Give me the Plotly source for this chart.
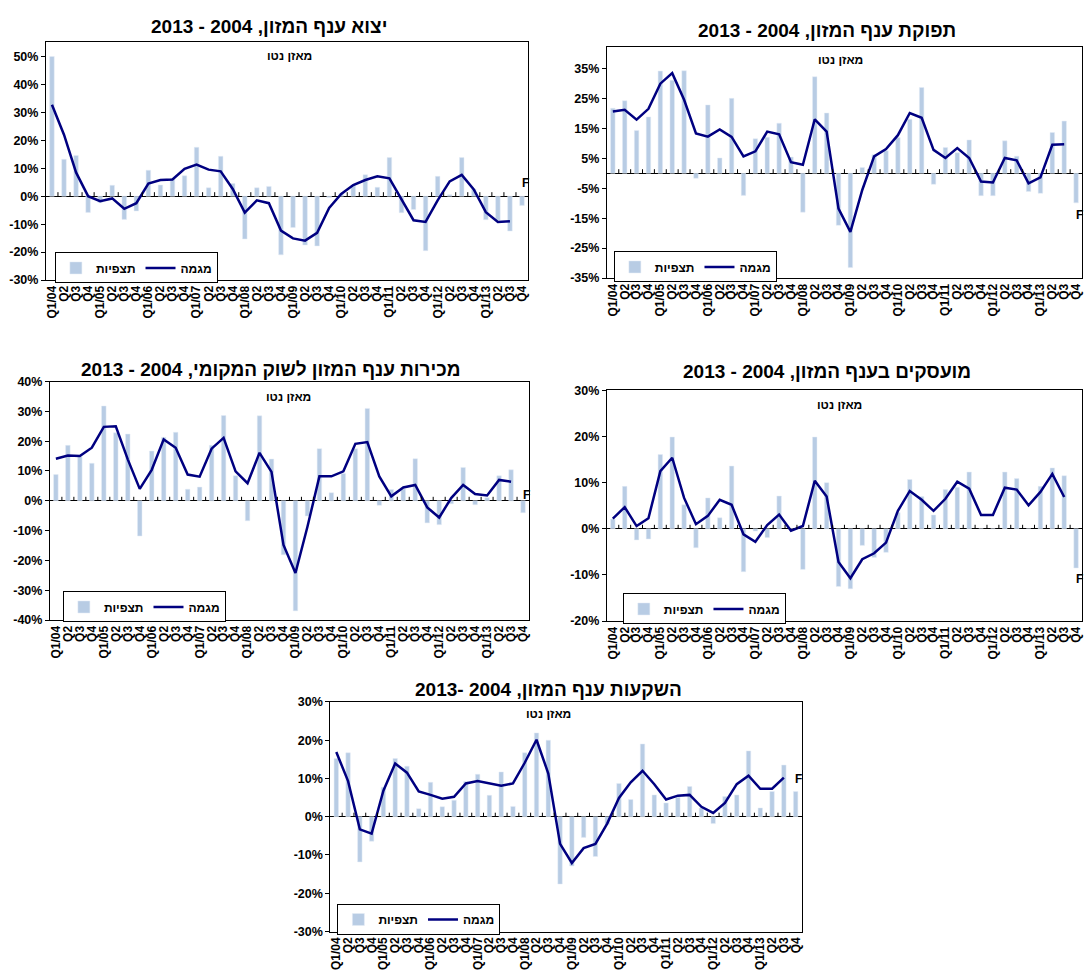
import plotly.graph_objects as go

quarters = ["Q1/04", "Q2", "Q3", "Q4", "Q1/05", "Q2", "Q3", "Q4", "Q1/06", "Q2", "Q3", "Q4",
            "Q1/07", "Q2", "Q3", "Q4", "Q1/08", "Q2", "Q3", "Q4", "Q1/09", "Q2", "Q3", "Q4",
            "Q1/10", "Q2", "Q3", "Q4", "Q1/11", "Q2", "Q3", "Q4", "Q1/12", "Q2", "Q3", "Q4",
            "Q1/13", "Q2", "Q3", "Q4"]

# Export
exp_obs = [50, 13.2, 14.6, -5.8, -2.3, 3.9, -8.3, -5.3, 9.3, 4, 6.3, 7.3, 17.5, 3, 14.3, 4.5,
           -15.3, 3, 3.5, -21, -11.2, -17.5, -17.8, -0.5, 1, 3.8, 7.7, 3.2, 13.8, -5.9, -4.8, -19.5,
           7.1, 0.5, 13.8, 2.6, -8.4, -8.6, -12.5, -3.3]
exp_trend = [32.7, 22, 8.5, 0, -1.8, -0.8, -4.5, -2.5, 4.5, 5.8, 6, 9.8, 11.3, 9.5, 8.9, 2.6,
             -5.9, -1.5, -2.5, -12.3, -15.1, -15.9, -13.1, -4.2, 0.8, 4, 5.8, 7.1, 6.4, -1, -8.6, -9.2,
             -1.5, 5.3, 7.6, 2.4, -5.7, -9.2, -9, None]

# Output
out_obs = [21.7, 24.2, 14.3, 18.8, 34.1, 31, 34.2, -1.7, 22.8, 5.1, 25, -7.4, 11.5, 12, 16.7, 5.4,
           -13, 32.2, 20.1, -17.4, -31.5, 1.9, 6.2, 7.5, 11.9, 18, 28.6, -3.7, 8.6, 6.8, 11.1, -7.5,
           -7.5, 10.8, 5.7, -6.1, -6.7, 13.6, 17.4, -9.9]
out_trend = [20.6, 21.2, 17.9, 21.5, 29.9, 33.4, 24.5, 13.3, 12.2, 14.6, 12.1, 5.6, 7.3, 13.9, 13, 3.7,
             2.8, 18, 13.9, -11.8, -19.6, -5.6, 5.6, 8.1, 12.7, 20.1, 18.5, 7.8, 5.1, 8.4, 5.1, -2.8,
             -3.1, 5.1, 4.3, -3.4, -1.4, 9.5, 9.7, None]

# Domestic sales
dom_obs = [8.8, 18.6, 14.8, 12.6, 31.8, 22.8, 22.4, -11.8, 16.7, 21.3, 23, 3.9, 4.6, 18.6, 28.6, 8.4,
           -6.7, 28.5, 14, -18.1, -36.9, -5.1, 17.5, 2.7, 9.2, 17.5, 31, -1.5, 3.8, 4, 14.1, -7.4,
           -8, -1, 11.2, -1.3, 1, 8.4, 10.4, -4]
dom_trend = [14.1, 15.2, 15, 17.8, 24.8, 25, 13.9, 4, 10.4, 20.6, 17.8, 8.8, 8.1, 17.5, 21.1, 9.9,
             5.9, 16.1, 9.7, -14.8, -24.2, -8.7, 8.2, 8.2, 9.9, 19.1, 19.7, 8.2, 1.5, 4.5, 5.3, -2.2,
             -5.6, 0.9, 5.3, 2.3, 1.8, 7, 6.4, None]

# Employees
emp_obs = [2.1, 9.2, -2.4, -2.2, 16.1, 19.9, 5.2, -4.1, 6.7, 2.4, 13.6, -9.3, -0.5, -1.9, 7.1, 0,
           -8.8, 19.9, 10, -12.5, -13, -3.6, -6.2, -5.1, 3.5, 10.7, 7, 3, 8.5, 9, 12.3, 0,
           0, 12.3, 10.9, 0, 9.2, 13.2, 11.5, -8.5]
emp_trend = [2.2, 4.7, 0.6, 2.3, 12.5, 15.4, 6.7, 1, 2.8, 6.3, 5.2, -1.2, -2.8, 0.8, 3.1, -0.4,
             0.6, 10.4, 7, -7.2, -10.7, -6.6, -5.3, -3, 3.9, 8.2, 6.3, 3.9, 6.5, 10.2, 8.7, 3,
             3, 8.9, 8.5, 5.1, 8, 11.9, 6.9, None]

# Investment
inv_obs = [15.2, 16.7, -11.8, -6.4, 7.7, 15.2, 13.2, 2.1, 9, 2.6, 4.3, 9.2, 11.1, 5.6, 11.7, 2.7,
           16.7, 21.9, 20, -17.6, -12.9, -5.4, -10.4, -2, 8.7, 4.5, 19, 5.7, 3.6, 5.1, 7.9, 2.3,
           -1.8, 5.3, 5.7, 17.2, 2.3, 6.6, 13.5, 6.6]
inv_trend = [16.9, 9.3, -3.3, -4.4, 6.8, 13.9, 11.5, 6.6, 5.7, 4.7, 5.2, 8.7, 9.3, 8.7, 8.1, 8.7,
             14.1, 20.1, 11.3, -7.1, -12.1, -8.2, -7.1, -1.8, 4.9, 9, 12, 8.5, 4.5, 5.5, 5.7, 2.6,
             1, 3.6, 8.5, 10.7, 7.3, 7.3, 10.2, None]

titles = ["יצוא ענף המזון, 2004 - 2013",
          "תפוקת ענף המזון, 2004 - 2013",
          "מכירות ענף המזון לשוק המקומי, 2004 - 2013",
          "מועסקים בענף המזון, 2004 - 2013",
          "השקעות ענף המזון, 2004 -2013"]
obs_label = "תצפיות"
trend_label = "מגמה"
net_label = "מאזן נטו"

W, H = 1088, 976
FONT = "Arial, Liberation Sans, sans-serif"
BAR_COLOR = "#B8CCE4"
LINE_COLOR = "#000080"

def px_x(p):
    return p / W

def px_y(p):
    return 1 - p / H

panels = [
    dict(obs=exp_obs, trend=exp_trend, box=(45, 528, 36, 277), yr=(-30, 55), ticks=list(range(-30, 51, 10)),
         tx=268, ty=20, nx=289, ny=50, lx=54, ly=249, fy=4.6),
    dict(obs=out_obs, trend=out_trend, box=(607, 1083, 41, 275), yr=(-35, 42), ticks=list(range(-35, 36, 10)),
         tx=828, ty=24, nx=841, ny=54, lx=614, ly=248, fy=-13.9),
    dict(obs=dom_obs, trend=dom_trend, box=(49, 529, 380, 622), yr=(-40, 40), ticks=list(range(-40, 41, 10)),
         tx=270, ty=368, nx=288, ny=396, lx=62, ly=593, fy=1.8),
    dict(obs=emp_obs, trend=emp_trend, box=(607, 1083, 389, 623), yr=(-20, 30), ticks=list(range(-20, 31, 10)),
         tx=828, ty=370, nx=840, ny=404, lx=623, ly=595, fy=-10.8),
    dict(obs=inv_obs, trend=inv_trend, box=(330, 802, 705, 938), yr=(-30, 30), ticks=list(range(-30, 31, 10)),
         tx=549, ty=692, nx=549, ny=717, lx=337, ly=910, fy=9.9),
]

fig = go.Figure()
xs = list(range(len(quarters)))
annotations = []
shapes = []
layout_axes = {}

for i, p in enumerate(panels):
    n = i + 1
    sfx = "" if n == 1 else str(n)
    xa, ya = "x" + sfx, "y" + sfx
    leg = "legend" + sfx
    fig.add_trace(go.Bar(x=xs, y=p["obs"], name=obs_label, marker_color=BAR_COLOR,
                         xaxis=xa, yaxis=ya, legend=leg, width=0.38))
    fig.add_trace(go.Scatter(x=xs, y=p["trend"], name=trend_label, mode="lines",
                             line=dict(color=LINE_COLOR, width=2.5), xaxis=xa, yaxis=ya, legend=leg))
    l, r, t, b = p["box"]
    layout_axes["xaxis" + sfx] = dict(
        domain=[px_x(l), px_x(r)], anchor=ya, range=[-0.5, len(quarters) - 0.5],
        tickmode="array", tickvals=xs, ticktext=quarters, tickangle=-90,
        tickfont=dict(family=FONT, size=12, color="black", weight="bold"),
        showline=True, linecolor="black", linewidth=1, mirror=True, ticks="", showgrid=False,
        zeroline=False, fixedrange=True)
    layout_axes["yaxis" + sfx] = dict(
        domain=[px_y(b), px_y(t)], anchor=xa, range=list(p["yr"]),
        tickmode="array", tickvals=p["ticks"], ticktext=[f"{v}%" for v in p["ticks"]],
        tickfont=dict(family=FONT, size=12.5, color="black", weight="bold"),
        showline=True, linecolor="black", linewidth=1, mirror=True, ticks="outside", ticklen=4,
        tickcolor="black", showgrid=False, zeroline=True, zerolinecolor="black", zerolinewidth=1,
        fixedrange=True)
    layout_axes[leg] = dict(
        x=px_x(p["lx"]), y=px_y(p["ly"]), xanchor="left", yanchor="top", orientation="h",
        bordercolor="black", borderwidth=1, bgcolor="white",
        font=dict(family=FONT, size=12, color="black", weight="bold"),
        itemwidth=30, tracegroupgap=0, entrywidth=0)
    annotations.append(dict(text="\u202b" + titles[i] + "\u202c", x=px_x(p["tx"]), y=px_y(p["ty"]),
                            xref="paper", yref="paper", xanchor="center", yanchor="middle",
                            showarrow=False, font=dict(family=FONT, size=19, color="black", weight="bold")))
    annotations.append(dict(text=net_label, x=px_x(p["nx"]), y=px_y(p["ny"]), xref="paper", yref="paper",
                            xanchor="center", yanchor="middle", showarrow=False,
                            font=dict(family=FONT, size=12, color="black", weight="bold")))
    annotations.append(dict(text="F", x=len(quarters) - 1 + 0.25, y=p["fy"], xref=xa, yref=ya,
                            xanchor="center", yanchor="middle", showarrow=False,
                            font=dict(family=FONT, size=12, color="black", weight="bold")))
    for k in range(len(quarters) - 1):
        shapes.append(dict(type="line", xref=xa, yref=ya, x0=k + 0.5, x1=k + 0.5,
                           ysizemode="pixel", yanchor=0, y0=0, y1=4,
                           line=dict(color="black", width=1)))

fig.update_layout(
    width=W, height=H, margin=dict(l=0, r=0, t=0, b=0),
    paper_bgcolor="white", plot_bgcolor="white",
    font=dict(family=FONT, color="black"),
    barmode="overlay", annotations=annotations, shapes=shapes,
    **layout_axes)

fig.write_html("out.html", config={"displayModeBar": False},
               post_script="document.body.style.margin='0px';document.body.style.padding='0px';")
